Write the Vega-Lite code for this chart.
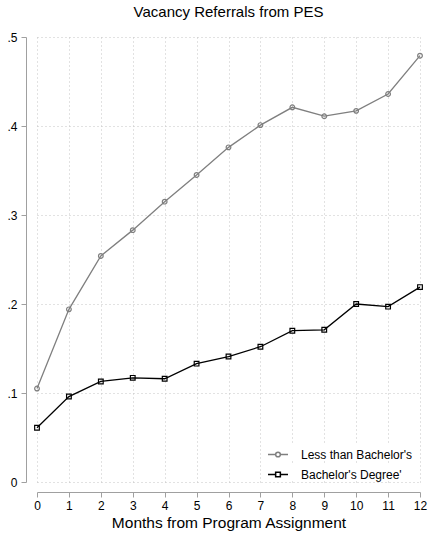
{
  "$schema": "https://vega.github.io/schema/vega-lite/v6.json",
  "width": 383,
  "height": 445,
  "autosize": {"type": "none"},
  "padding": {"left": 37, "top": 37, "right": 10, "bottom": 52},
  "background": "white",
  "title": {"text": "Vacancy Referrals from PES", "fontSize": 15, "font": "Liberation Sans", "fontWeight": "normal", "color": "black", "baseline": "alphabetic", "offset": -1, "anchor": "middle"},
  "data": {"values": [
    {"month": 0, "group": "Less than Bachelor's", "value": 0.105},
    {"month": 1, "group": "Less than Bachelor's", "value": 0.194},
    {"month": 2, "group": "Less than Bachelor's", "value": 0.254},
    {"month": 3, "group": "Less than Bachelor's", "value": 0.283},
    {"month": 4, "group": "Less than Bachelor's", "value": 0.315},
    {"month": 5, "group": "Less than Bachelor's", "value": 0.345},
    {"month": 6, "group": "Less than Bachelor's", "value": 0.376},
    {"month": 7, "group": "Less than Bachelor's", "value": 0.401},
    {"month": 8, "group": "Less than Bachelor's", "value": 0.421},
    {"month": 9, "group": "Less than Bachelor's", "value": 0.411},
    {"month": 10, "group": "Less than Bachelor's", "value": 0.417},
    {"month": 11, "group": "Less than Bachelor's", "value": 0.436},
    {"month": 12, "group": "Less than Bachelor's", "value": 0.479},
    {"month": 0, "group": "Bachelor's Degree'", "value": 0.061},
    {"month": 1, "group": "Bachelor's Degree'", "value": 0.096},
    {"month": 2, "group": "Bachelor's Degree'", "value": 0.113},
    {"month": 3, "group": "Bachelor's Degree'", "value": 0.117},
    {"month": 4, "group": "Bachelor's Degree'", "value": 0.116},
    {"month": 5, "group": "Bachelor's Degree'", "value": 0.133},
    {"month": 6, "group": "Bachelor's Degree'", "value": 0.141},
    {"month": 7, "group": "Bachelor's Degree'", "value": 0.152},
    {"month": 8, "group": "Bachelor's Degree'", "value": 0.170},
    {"month": 9, "group": "Bachelor's Degree'", "value": 0.171},
    {"month": 10, "group": "Bachelor's Degree'", "value": 0.200},
    {"month": 11, "group": "Bachelor's Degree'", "value": 0.197},
    {"month": 12, "group": "Bachelor's Degree'", "value": 0.219}
  ]},
  "encoding": {
    "x": {"field": "month", "type": "quantitative", "scale": {"domain": [0, 12], "nice": false, "zero": false},
      "axis": {"title": "Months from Program Assignment", "titleFontSize": 15.5, "titleFont": "Liberation Sans", "titleFontWeight": "normal", "titleColor": "black", "titlePadding": 4,
        "values": [0,1,2,3,4,5,6,7,8,9,10,11,12], "format": "d", "labelFontSize": 12, "labelFont": "Liberation Sans", "labelColor": "black", "labelPadding": 3, "labelFlush": false,
        "offset": 10, "domainColor": "#a0a0a0", "tickColor": "#a0a0a0", "tickSize": 5, "grid": true, "gridDash": [1, 3], "gridColor": "#c4c4c4", "gridWidth": 1}},
    "y": {"field": "value", "type": "quantitative", "scale": {"domain": [0, 0.5], "nice": false},
      "axis": {"title": null, "values": [0, 0.1, 0.2, 0.3, 0.4, 0.5], "labelExpr": "datum.value == 0 ? '0' : '.' + round(datum.value * 10)",
        "labelFontSize": 12, "labelFont": "Liberation Sans", "labelColor": "black", "labelPadding": 4, "labelAngle": 0, "labelFlush": false,
        "offset": 11, "domainColor": "#a0a0a0", "tickColor": "#a0a0a0", "tickSize": 5, "grid": true, "gridDash": [1, 3], "gridColor": "#c4c4c4", "gridWidth": 1}}
  },
  "layer": [
    {
      "mark": {"type": "line", "strokeWidth": 1.3},
      "encoding": {
        "color": {"field": "group", "type": "nominal", "scale": {"domain": ["Less than Bachelor's", "Bachelor's Degree'"], "range": ["#7f7f7f", "#000000"]}, "legend": null}
      }
    },
    {
      "mark": {"type": "point", "filled": false, "size": 22, "strokeWidth": 1.2, "opacity": 1},
      "encoding": {
        "color": {"field": "group", "type": "nominal", "scale": {"domain": ["Less than Bachelor's", "Bachelor's Degree'"], "range": ["#7f7f7f", "#000000"]}, "legend": null},
        "shape": {"field": "group", "type": "nominal", "scale": {"domain": ["Less than Bachelor's", "Bachelor's Degree'"], "range": ["circle", "square"]}, "legend": null}
      }
    },
    {
      "transform": [{"filter": "datum.group === \"Less than Bachelor's\""}],
      "mark": {"type": "point", "filled": false, "size": 0, "color": "#7f7f7f", "opacity": 1},
      "encoding": {
        "shape": {"field": "group", "type": "nominal", "scale": {"domain": ["Less than Bachelor's"], "range": ["M-1,0H-0.235M0.235,0H1M-0.235,0A0.235,0.235 0 1,0 0.235,0A0.235,0.235 0 1,0 -0.235,0"]},
          "legend": {"title": null, "orient": "none", "legendX": 230, "legendY": 406.5, "padding": 0, "fillColor": "white", "symbolSize": 400, "symbolStrokeWidth": 1.5, "symbolStrokeColor": "#7f7f7f", "symbolFillColor": "transparent", "symbolOpacity": 1, "labelFontSize": 12, "labelFont": "Liberation Sans", "labelColor": "black", "labelOffset": 12, "rowPadding": 0, "direction": "vertical"}}
      }
    },
    {
      "transform": [{"filter": "datum.group === \"Bachelor's Degree'\""}],
      "mark": {"type": "point", "filled": false, "size": 0, "color": "#000000", "opacity": 1},
      "encoding": {
        "shape": {"field": "group", "type": "nominal", "scale": {"domain": ["Bachelor's Degree'"], "range": ["M-1,0H-0.235M0.235,0H1M-0.235,-0.235H0.235V0.235H-0.235Z"]},
          "legend": {"title": null, "orient": "none", "legendX": 230, "legendY": 426.5, "padding": 0, "fillColor": "white", "symbolSize": 400, "symbolStrokeWidth": 1.5, "symbolStrokeColor": "#000000", "symbolFillColor": "transparent", "symbolOpacity": 1, "labelFontSize": 12, "labelFont": "Liberation Sans", "labelColor": "black", "labelOffset": 12, "rowPadding": 0, "direction": "vertical"}}
      }
    }
  ],
  "resolve": {"scale": {"shape": "independent"}},
  "config": {"view": {"stroke": null}}
}
